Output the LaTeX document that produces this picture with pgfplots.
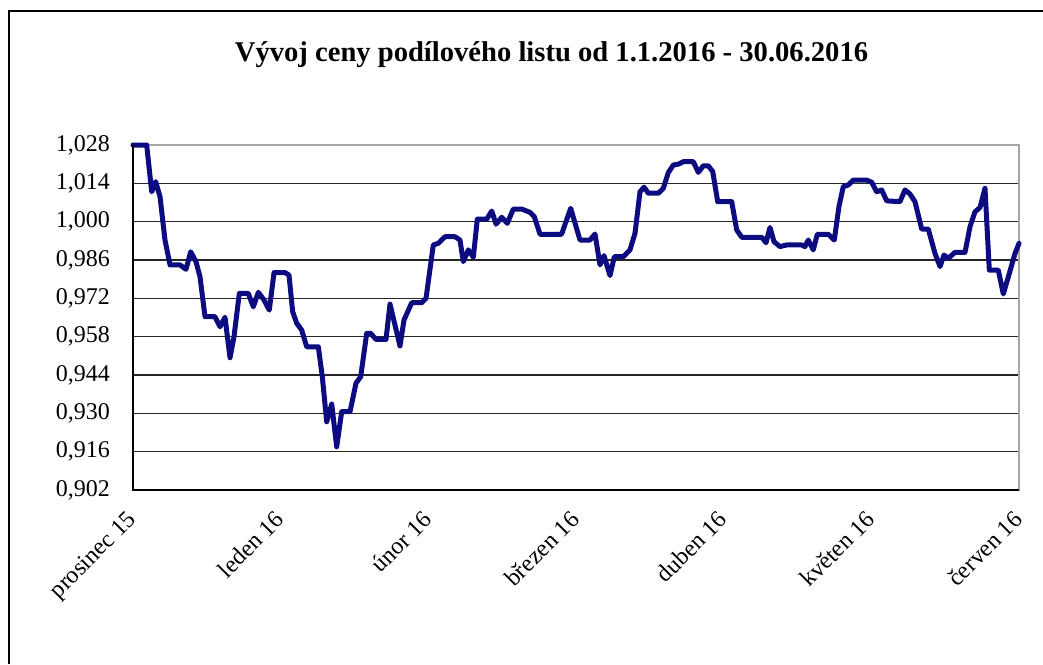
\documentclass[border=0pt]{standalone}
\usepackage{fontspec}
\setmainfont{Liberation Serif}
\usepackage{pgfplots}
\pgfplotsset{compat=1.18}
\definecolor{linenavy}{RGB}{12,12,128}
\begin{document}
\begin{tikzpicture}[x=1pt,y=1pt]
\path[use as bounding box] (0,0) rectangle (521.5,-332);
\draw[black,line width=0.8pt] (4.5,-332) -- (4.5,-5.5) -- (521.5,-5.5);
\node[font=\fontsize{14.3}{17}\selectfont\bfseries] at (275.75,-27.5) {Vývoj ceny podílového listu od 1.1.2016 - 30.06.2016};
\begin{axis}[
  at={(66.5pt,-245pt)}, anchor=south west,
  scale only axis, width=443pt, height=172.5pt,
  xmin=0, xmax=180, ymin=0.902, ymax=1.028,
  xtick={0,30,60,90,120,150,180},
  xticklabels={prosinec 15,leden 16,únor 16,březen 16,duben 16,květen 16,červen 16},
  ytick={0.902,0.916,0.930,0.944,0.958,0.972,0.986,1.000,1.014,1.028},
  y tick label style={/pgf/number format/fixed,/pgf/number format/fixed zerofill,/pgf/number format/precision=3,/pgf/number format/use comma,/pgf/number format/assume math mode=true,xshift=-8pt},
  tick label style={font=\fontsize{12}{14}\selectfont},
  xticklabel style={xshift=-3.5pt,yshift=-8pt,rotate=45,anchor=north east,inner sep=1pt},
  major tick length=0pt,
  ymajorgrids, major grid style={black!85,line width=0.75pt},
  axis line style={gray!70,line width=0.6pt},
  clip=false,
]
\addplot[linenavy,line width=2.5pt,line join=round,line cap=round] coordinates {
(0,1.028) (2.78,1.028) (3.80,1.0109) (4.61,1.0146) (5.49,1.0091) (6.50,0.9933)
(7.52,0.9842) (9.55,0.9842) (10.77,0.9826) (11.72,0.9890) (12.80,0.9854) (13.61,0.9799)
(14.63,0.9653) (16.66,0.9653) (17.67,0.9616) (18.69,0.9651) (19.71,0.9503) (20.52,0.9580)
(21.60,0.9738) (23.42,0.9738) (24.44,0.9689) (25.46,0.9742) (26.61,0.9714) (27.69,0.9677)
(28.65,0.9814) (30.88,0.9814) (31.69,0.9805) (32.44,0.9671) (33.26,0.9629) (34.27,0.9604)
(35.29,0.9543) (37.65,0.9543) (38.46,0.9434) (39.35,0.9269) (40.37,0.9334) (41.38,0.9178)
(42.40,0.9306) (44.09,0.9306) (45.30,0.9410) (46.26,0.9434) (47.48,0.9592) (48.29,0.9592)
(49.37,0.9570) (51.40,0.9570) (52.21,0.9699) (54.24,0.9546) (55.06,0.9641) (56.62,0.9704)
(58.65,0.9704) (59.53,0.9720) (61.01,0.9915) (62.02,0.9921) (63.39,0.9945) (65.42,0.9945)
(66.43,0.9933) (67.10,0.9854) (68.12,0.9897) (69.14,0.9870) (69.95,1.0009) (71.86,1.0009)
(72.88,1.0039) (73.75,0.9991) (74.91,1.0016) (76.04,0.9994) (77.26,1.0046) (78.97,1.0046)
(80.66,1.0034) (81.53,1.0018) (82.69,0.9954) (87.07,0.9954) (88.92,1.0049) (90.81,0.9933)
(92.84,0.9933) (93.86,0.9955) (94.88,0.9842) (95.69,0.9876) (96.91,0.9803) (97.78,0.9872)
(99.61,0.9872) (100.97,0.9897) (101.99,0.9958) (103.00,1.0109) (103.82,1.0126) (104.69,1.0104)
(106.72,1.0104) (107.74,1.0122) (108.75,1.0179) (109.77,1.0207) (110.78,1.0210) (111.80,1.0219)
(113.83,1.0219) (114.85,1.0180) (115.86,1.0204) (116.88,1.0204) (117.77,1.0183) (118.79,1.0073)
(121.63,1.0073) (122.65,0.9970) (123.67,0.9943) (127.73,0.9943) (128.60,0.9923) (129.41,0.9979)
(130.22,0.9927) (131.44,0.9909) (132.80,0.9915) (135.84,0.9915) (136.52,0.9909) (137.19,0.9933)
(138.20,0.9897) (139.02,0.9954) (141.25,0.9954) (142.47,0.9933) (143.42,1.0055) (144.30,1.0128)
(145.31,1.0134) (146.33,1.0152) (149.05,1.0152) (150.07,1.0144) (151.09,1.0109) (152.10,1.0116)
(153.12,1.0076) (155.82,1.0073) (156.83,1.0116) (157.85,1.0101) (158.87,1.0073) (160.23,0.9973)
(161.57,0.9973) (162.93,0.9884) (163.95,0.9836) (164.76,0.9878) (165.64,0.9866) (167.00,0.9888)
(169.03,0.9888) (170.05,0.9982) (171.06,1.0036) (172.08,1.0052) (173.09,1.0122) (173.97,0.9823)
(175.79,0.9823) (176.81,0.9736) (178.03,0.9811) (179.19,0.9884) (180,0.9921)
};
\draw[black,line width=0.75pt] (rel axis cs:0,1) -- (rel axis cs:0,0) -- (rel axis cs:1,0);
\end{axis}
\end{tikzpicture}
\end{document}
